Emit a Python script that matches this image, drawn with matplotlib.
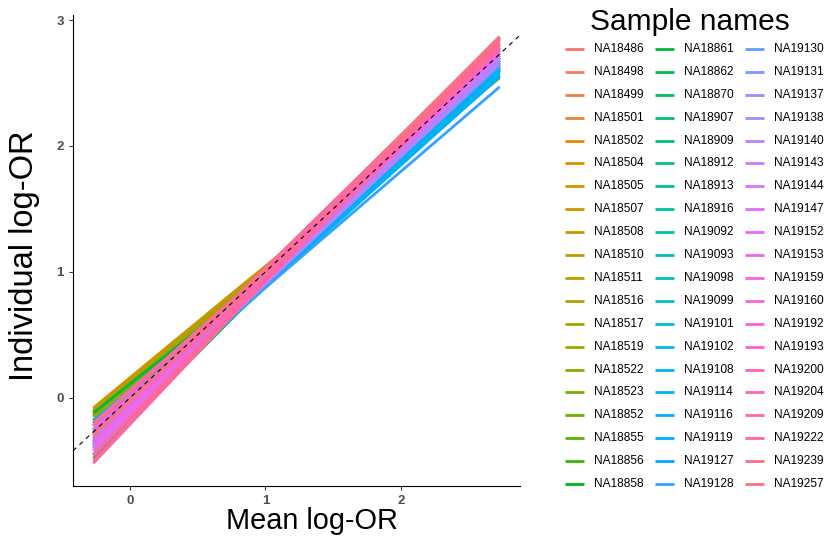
import numpy as np
import matplotlib
matplotlib.use("Agg")
import matplotlib.pyplot as plt
from matplotlib.lines import Line2D

plt.rcParams['font.family'] = ['Liberation Sans', 'DejaVu Sans']

# sample names (legend order, 3 columns x 20 rows)
sample_names = [
    "NA18486", "NA18498", "NA18499", "NA18501", "NA18502", "NA18504",
    "NA18505", "NA18507", "NA18508", "NA18510", "NA18511", "NA18516",
    "NA18517", "NA18519", "NA18522", "NA18523", "NA18852", "NA18855",
    "NA18856", "NA18858", "NA18861", "NA18862", "NA18870", "NA18907",
    "NA18909", "NA18912", "NA18913", "NA18916", "NA19092", "NA19093",
    "NA19098", "NA19099", "NA19101", "NA19102", "NA19108", "NA19114",
    "NA19116", "NA19119", "NA19127", "NA19128", "NA19130", "NA19131",
    "NA19137", "NA19138", "NA19140", "NA19143", "NA19144", "NA19147",
    "NA19152", "NA19153", "NA19159", "NA19160", "NA19192", "NA19193",
    "NA19200", "NA19204", "NA19209", "NA19222", "NA19239", "NA19257",
]

# mean log-OR at which each individual log-OR is evaluated
mean_logor = [-0.27, 0.80, 2.73]

# individual log-OR at the three mean values
ind_low = [
    -0.22, -0.28, -0.18, -0.25, -0.15, -0.12,
    -0.14, -0.08, -0.09, -0.10, -0.11, -0.12,
    -0.13, -0.15, -0.18, -0.20, -0.30, -0.35,
    -0.40, -0.45, -0.12, -0.48, -0.38, -0.25,
    -0.22, -0.20, -0.30, -0.28, -0.18, -0.25,
    -0.32, -0.28, -0.35, -0.22, -0.38, -0.30,
    -0.34, -0.26, -0.20, -0.36, -0.33, -0.40,
    -0.37, -0.32, -0.40, -0.35, -0.30, -0.38,
    -0.25, -0.42, -0.30, -0.20, -0.35, -0.45,
    -0.28, -0.50, -0.52, -0.46, -0.22, -0.30,
]
ind_mid = [
    0.79, 0.77, 0.80, 0.78, 0.82, 0.84,
    0.83, 0.87, 0.86, 0.85, 0.84, 0.84,
    0.83, 0.82, 0.80, 0.79, 0.76, 0.74,
    0.72, 0.70, 0.79, 0.68, 0.72, 0.76,
    0.75, 0.76, 0.72, 0.73, 0.76, 0.74,
    0.70, 0.72, 0.69, 0.74, 0.68, 0.71,
    0.70, 0.72, 0.75, 0.69, 0.72, 0.70,
    0.71, 0.74, 0.70, 0.72, 0.75, 0.72,
    0.78, 0.74, 0.80, 0.82, 0.77, 0.72,
    0.81, 0.72, 0.70, 0.74, 0.82, 0.79,
]
ind_high = [
    2.72, 2.68, 2.74, 2.70, 2.65, 2.62,
    2.66, 2.56, 2.54, 2.58, 2.60, 2.62,
    2.63, 2.60, 2.65, 2.62, 2.66, 2.70,
    2.74, 2.78, 2.86, 2.76, 2.80, 2.72,
    2.70, 2.68, 2.72, 2.66, 2.64, 2.62,
    2.60, 2.66, 2.58, 2.64, 2.56, 2.62,
    2.55, 2.60, 2.66, 2.47, 2.64, 2.68,
    2.70, 2.72, 2.66, 2.74, 2.70, 2.76,
    2.78, 2.74, 2.82, 2.85, 2.80, 2.76,
    2.86, 2.78, 2.84, 2.80, 2.82, 2.87,
]


def hue_pal(n, c=100.0, l=65.0):
    # ggplot2 default hue palette (polar LUV -> sRGB)
    hues = np.linspace(15, 375, n + 1)[:-1]
    Xn, Yn, Zn = 95.047, 100.0, 108.883
    un = 4 * Xn / (Xn + 15 * Yn + 3 * Zn)
    vn = 9 * Yn / (Xn + 15 * Yn + 3 * Zn)
    cols = []
    for h in hues:
        u = c * np.cos(np.radians(h))
        v = c * np.sin(np.radians(h))
        Y = Yn * ((l + 16) / 116) ** 3
        up = u / (13 * l) + un
        vp = v / (13 * l) + vn
        X = 9.0 * Y * up / (4 * vp)
        Z = -X / 3 - 5 * Y + 3 * Y / vp
        xyz = np.array([X, Y, Z]) / 100
        M = np.array([[3.240479, -1.537150, -0.498535],
                      [-0.969256, 1.875992, 0.041556],
                      [0.055648, -0.204043, 1.057311]])
        rgb = M @ xyz
        rgb = np.where(rgb > 0.0031308, 1.055 * np.abs(rgb) ** (1 / 2.4) - 0.055, 12.92 * rgb)
        cols.append(tuple(np.clip(rgb, 0, 1)))
    return cols


colors = hue_pal(len(sample_names))

fig = plt.figure(figsize=(8.28, 5.41), dpi=100)
ax = fig.add_axes([73 / 828, 1 - 486 / 541, (520 - 73) / 828, (486 - 15) / 541])

for i, name in enumerate(sample_names):
    ax.plot(mean_logor, [ind_low[i], ind_mid[i], ind_high[i]],
            color=colors[i], lw=2.0, solid_capstyle='butt')

ax.axline((0, 0), slope=1, color='black', lw=0.8, ls=(0, (4, 4)), zorder=5)

ax.set_xlim(-0.42, 2.88)
ax.set_ylim(-0.70, 3.04)
ax.set_xticks([0, 1, 2])
ax.set_yticks([0, 1, 2, 3])
for s in ['top', 'right']:
    ax.spines[s].set_visible(False)
for s in ['left', 'bottom']:
    ax.spines[s].set_linewidth(0.8)
ax.tick_params(length=3, width=0.8, color='#333333', labelcolor='#4d4d4d', labelsize=9.5)
for lab in ax.get_xticklabels() + ax.get_yticklabels():
    lab.set_fontweight('bold')

ax.set_xlabel('Mean log-OR', fontsize=20.8, va='baseline')
ax.xaxis.set_label_coords((312 - 73) / 447, (486 - 529) / 471)
ax.set_ylabel('Individual log-OR', fontsize=23.5, va='center')
ax.yaxis.set_label_coords((25 - 73) / 447, (486 - 256) / 471)

# legend
fig.text(590 / 828, 1 - 22 / 541, 'Sample names', fontsize=21.5, va='center', ha='left')
row0, pitch = 49, (484 - 49) / 19
for i, name in enumerate(sample_names):
    col, row = divmod(i, 20)
    xk = 565 + col * 90
    yk = 1 - (row0 + row * pitch) / 541
    fig.add_artist(Line2D([xk / 828, (xk + 19) / 828], [yk, yk], color=colors[i],
                          lw=2.0, solid_capstyle='butt', transform=fig.transFigure))
    fig.text((xk + 29) / 828, yk, name, fontsize=8.6, va='center', ha='left')

fig.savefig('out.png', dpi=100)
